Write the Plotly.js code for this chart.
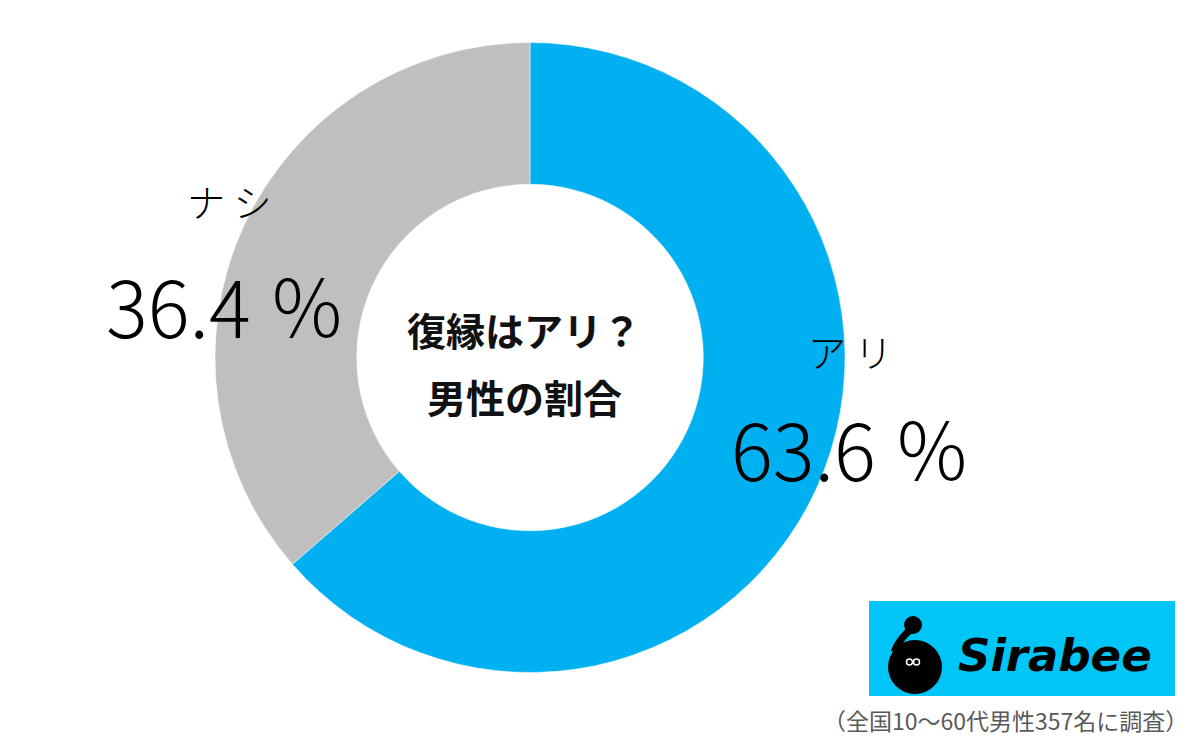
<!DOCTYPE html>
<html>
<head>
<meta charset="utf-8">
<script src="https://cdn.plot.ly/plotly-3.0.1.min.js"></script>
<style>
  html, body { margin: 0; padding: 0; background: #fff; }
  #chart { width: 1200px; height: 743px; }
</style>
</head>
<body>
<div id="chart"></div>
<script>
// ---- data ----
const labels = ['アリ', 'ナシ'];
const values = [63.6, 36.4];
const colors = ['#00B0F0', '#BFBFBF'];
const centerLines = ['復縁はアリ？', '男性の割合'];
const note = '（全国10～60代男性357名に調査）';
const brand = 'Sirabee';

// ---- helpers (pixel -> paper) ----
const W = 1200, H = 743;
const px = x => x / W;
const py = y => 1 - y / H;

const JP = '"Noto Sans CJK JP", "Noto Sans", sans-serif';

// label positions (pixels) for each slice: [name pos, value pos]
const labelPos = [
  { name: [850, 350], val: [851, 447] },
  { name: [229, 200], val: [226, 304] }
];

const annotations = [];
labels.forEach((lab, i) => {
  annotations.push({
    xref: 'paper', yref: 'paper', x: px(labelPos[i].name[0]), y: py(labelPos[i].name[1]),
    xanchor: 'center', yanchor: 'middle', showarrow: false,
    text: lab.split('').join(' '),
    font: { family: JP, size: 38, color: '#000', weight: 300 }
  });
  annotations.push({
    xref: 'paper', yref: 'paper', x: px(labelPos[i].val[0]), y: py(labelPos[i].val[1]),
    xanchor: 'center', yanchor: 'middle', showarrow: false,
    text: values[i].toFixed(1) + ' ％',
    font: { family: JP, size: 78, color: '#000', weight: 300 }
  });
});

// center text
const centerY = [329, 396];
centerLines.forEach((t, i) => {
  annotations.push({
    xref: 'paper', yref: 'paper', x: px(524), y: py(centerY[i]),
    xanchor: 'center', yanchor: 'middle', showarrow: false,
    text: '<b>' + t + '</b>',
    font: { family: JP, size: 39, color: '#111' }
  });
});

// brand text
annotations.push({
  xref: 'paper', yref: 'paper', x: px(956), y: py(655),
  xanchor: 'left', yanchor: 'middle', showarrow: false,
  text: '<b><i>' + brand + '</i></b>',
  font: { family: '"DejaVu Sans", sans-serif', size: 45, color: '#000' }
});

// footnote
annotations.push({
  xref: 'paper', yref: 'paper', x: px(1005), y: py(720),
  xanchor: 'center', yanchor: 'middle', showarrow: false,
  text: note,
  font: { family: JP, size: 23, color: '#595959' }
});

function circle(cx, cy, r, fill, line, lw) {
  return {
    type: 'circle', xref: 'paper', yref: 'paper',
    x0: px(cx - r), x1: px(cx + r), y0: py(cy + r), y1: py(cy - r),
    fillcolor: fill, line: { color: line || fill, width: lw || 0 }, layer: 'above'
  };
}

const shapes = [
  { type: 'rect', xref: 'paper', yref: 'paper',
    x0: px(869), x1: px(1175), y0: py(696), y1: py(601),
    fillcolor: '#00C6F7', line: { width: 0 }, layer: 'above' },
  circle(915, 667, 27, '#000'),
  circle(913, 625, 9, '#000'),
  { type: 'path', xref: 'paper', yref: 'paper', layer: 'above',
    path: 'M ' + px(913) + ' ' + py(628) + ' Q ' + px(900) + ' ' + py(637) + ' ' + px(894) + ' ' + py(652),
    line: { color: '#000', width: 7 } },
  circle(909.5, 662, 3, '#000', '#fff', 1.5),
  circle(916.5, 662, 3, '#000', '#fff', 1.5)
];

const trace = {
  type: 'pie',
  labels: labels,
  values: values,
  hole: 0.55,
  sort: false,
  direction: 'clockwise',
  rotation: 0,
  textinfo: 'none',
  hoverinfo: 'none',
  showlegend: false,
  marker: { colors: colors, line: { color: '#ffffff', width: 0.5 } },
  domain: { x: [px(215), px(845)], y: [py(672.5), py(42.5)] }
};

const layout = {
  width: W, height: H,
  margin: { l: 0, r: 0, t: 0, b: 0 },
  paper_bgcolor: '#fff',
  showlegend: false,
  annotations: annotations,
  shapes: shapes
};

Plotly.newPlot('chart', [trace], layout, { staticPlot: true, displayModeBar: false });
</script>
</body>
</html>
